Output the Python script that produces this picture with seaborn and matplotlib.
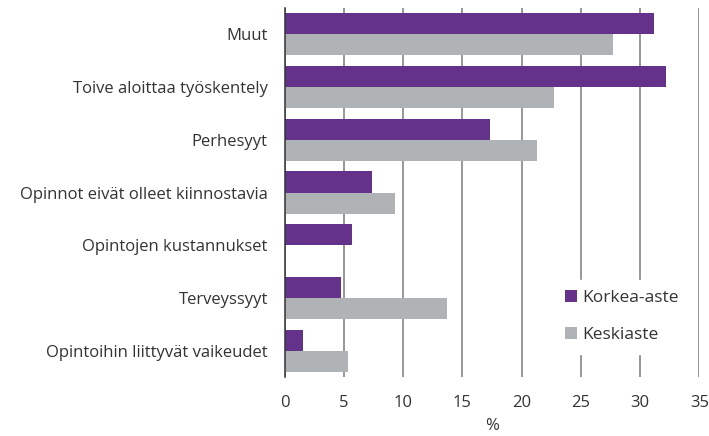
import pandas as pd
import matplotlib
matplotlib.use("Agg")
import matplotlib.pyplot as plt
import seaborn as sns

# Data
categories = [
    "Muut",
    "Toive aloittaa työskentely",
    "Perhesyyt",
    "Opinnot eivät olleet kiinnostavia",
    "Opintojen kustannukset",
    "Terveyssyyt",
    "Opintoihin liittyvät vaikeudet",
]
korkea_aste = [31.2, 32.2, 17.3, 7.4, 5.7, 4.8, 1.55]
keskiaste = [27.7, 22.7, 21.3, 9.3, 0.0, 13.7, 5.4]
series_names = ["Korkea-aste", "Keskiaste"]
x_ticks = [0, 5, 10, 15, 20, 25, 30, 35]

df = pd.DataFrame({
    "Syy": categories * 2,
    "Arvo": korkea_aste + keskiaste,
    "Aste": [series_names[0]] * len(categories) + [series_names[1]] * len(categories),
})

sns.set_style("white")
plt.rcParams["font.family"] = ["Open Sans", "DejaVu Sans"]

fig = plt.figure(figsize=(7.09, 4.36), dpi=100)
ax = fig.add_axes([284.5 / 709, 59 / 436, (699.3 - 284.5) / 709, (428 - 59) / 436])

sns.barplot(
    data=df,
    x="Arvo",
    y="Syy",
    hue="Aste",
    order=categories,
    hue_order=series_names,
    palette=["#64328a", "#b0b3b6"],
    width=0.8,
    saturation=1,
    linewidth=0,
    ax=ax,
)

ax.set_xlim(0, 35)
ax.set_xticks(x_ticks)
ax.set_xticklabels([str(t) for t in x_ticks], fontsize=12, color="#333333")
ax.tick_params(axis="y", labelsize=12, labelcolor="#333333", length=0, pad=12)
ax.tick_params(axis="x", length=0, pad=13)
ax.xaxis.grid(True, color="#7a7a7a", linewidth=1.1)
ax.set_axisbelow(True)
for side in ["top", "right", "bottom"]:
    ax.spines[side].set_visible(False)
ax.spines["left"].set_color("#333333")
ax.spines["left"].set_linewidth(1.1)
ax.set_ylabel("")
ax.set_xlabel("%", fontsize=12, color="#333333", labelpad=5)

leg = ax.legend(
    loc="lower left",
    bbox_to_anchor=(0.63, 0.04),
    frameon=True,
    fontsize=12.5,
    handlelength=0.7,
    handleheight=0.7,
    handletextpad=0.3,
    labelspacing=1.2,
    borderpad=0.6,
)
leg.get_frame().set_edgecolor("white")
leg.get_frame().set_facecolor("white")
leg.get_frame().set_alpha(1)
for t in leg.get_texts():
    t.set_color("#333333")

fig.savefig("out.png", dpi=100)
